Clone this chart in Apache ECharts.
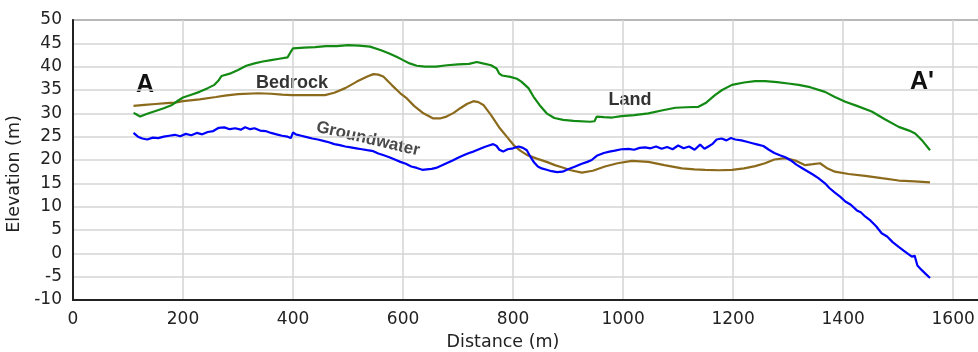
<!DOCTYPE html>
<html>
<head>
<meta charset="utf-8">
<script src="https://cdn.jsdelivr.net/npm/echarts@6/dist/echarts.min.js"></script>
<style>
  html, body { margin: 0; padding: 0; background: #fff; }
  #chart { width: 978px; height: 352px; }
</style>
</head>
<body>
<div id="chart"></div>
<script>
// Cross-section A - A': distance (m) vs elevation (m)

var landDist = [110, 115, 122, 135, 150, 165, 180, 192, 200, 215, 230, 245, 257, 265, 270, 285, 300, 315, 330, 345,
  360, 375, 390, 396, 400, 420, 440, 460, 480, 500, 520, 540, 560, 575, 590, 600, 612, 625, 640, 660,
  680, 700, 720, 734, 745, 760, 770, 775, 780, 795, 807, 815, 828, 837, 848, 861, 875, 891, 910, 940,
  948, 952, 965, 980, 997, 1020, 1046, 1070, 1095, 1115, 1137, 1150, 1167, 1180, 1198, 1220, 1240, 1258, 1280, 1300,
  1319, 1340, 1367, 1385, 1404, 1425, 1452, 1475, 1501, 1520, 1531, 1545, 1558]
var landElev = [30.1, 29.8, 29.3, 29.9, 30.5, 31.1, 31.8, 32.8, 33.4, 34.0, 34.6, 35.4, 36.1, 37.1, 38.0, 38.5, 39.3, 40.2, 40.7, 41.1,
  41.4, 41.7, 42.0, 43.2, 43.9, 44.1, 44.2, 44.4, 44.4, 44.6, 44.5, 44.3, 43.5, 42.8, 42.0, 41.4, 40.7, 40.2, 40.0, 40.0,
  40.3, 40.5, 40.6, 41.0, 40.7, 40.3, 39.6, 38.5, 38.1, 37.8, 37.4, 36.8, 35.4, 33.6, 31.8, 30.0, 29.0, 28.6, 28.4, 28.2,
  28.3, 29.3, 29.2, 29.1, 29.4, 29.6, 30.0, 30.6, 31.2, 31.3, 31.4, 32.2, 33.9, 35.0, 36.1, 36.6, 36.9, 36.9, 36.7, 36.4,
  36.1, 35.6, 34.6, 33.5, 32.5, 31.6, 30.4, 28.8, 27.1, 26.3, 25.7, 24.0, 22.1]

var bedDist = [110, 130, 150, 170, 185, 200, 230, 260, 276, 300, 337, 360, 380, 398, 430, 458, 475, 495, 516, 535,
  546, 555, 564, 580, 595, 607, 620, 637, 655, 667, 679, 692, 704, 716, 728, 737, 746, 760, 776, 790,
  801, 813, 825, 843, 861, 876, 890, 905, 925, 945, 967, 990, 1016, 1046, 1075, 1107, 1130, 1149, 1175, 1198,
  1220, 1240, 1258, 1275, 1295, 1315, 1331, 1345, 1358, 1370, 1385, 1410, 1440, 1470, 1501, 1530, 1558]
var bedElev = [31.6, 31.8, 32.0, 32.2, 32.3, 32.6, 33.0, 33.5, 33.8, 34.1, 34.3, 34.2, 34.0, 33.9, 33.9, 33.9, 34.4, 35.4, 36.8, 37.9,
  38.4, 38.3, 37.9, 36.0, 34.3, 33.2, 31.6, 30.0, 28.9, 28.9, 29.3, 30.1, 31.1, 32.0, 32.6, 32.4, 31.8, 29.6, 26.8, 24.8,
  23.2, 22.0, 21.1, 20.3, 19.6, 18.9, 18.4, 17.8, 17.3, 17.7, 18.6, 19.3, 19.8, 19.6, 18.9, 18.2, 18.0, 17.9, 17.8, 17.9,
  18.2, 18.7, 19.3, 20.1, 20.4, 19.8, 18.9, 19.1, 19.3, 18.3, 17.5, 17.0, 16.6, 16.1, 15.6, 15.4, 15.2]

var gwDist = [110, 118, 126, 135, 145, 155, 165, 175, 185, 195, 205, 215, 225, 235, 245, 255, 265, 275, 285, 295,
  305, 313, 322, 330, 340, 350, 360, 370, 380, 390, 396, 400, 405, 415, 425, 435, 445, 455, 465, 475,
  485, 495, 505, 515, 525, 535, 546, 555, 565, 575, 585, 595, 605, 615, 625, 635, 643, 652, 660, 670,
  679, 690, 700, 710, 720, 728, 738, 748, 756, 764, 770, 775, 782, 790, 800, 810, 818, 825, 832, 838,
  845, 852, 861, 870, 880, 890, 900, 913, 925, 935, 943, 952, 965, 975, 985, 997, 1010, 1020, 1030, 1040,
  1050, 1060, 1070, 1080, 1090, 1100, 1110, 1120, 1130, 1140, 1148, 1155, 1162, 1170, 1179, 1188, 1196, 1204, 1215, 1225,
  1235, 1245, 1255, 1265, 1275, 1285, 1295, 1305, 1315, 1325, 1335, 1345, 1355, 1367, 1375, 1385, 1395, 1404, 1414, 1425,
  1432, 1440, 1450, 1460, 1470, 1480, 1490, 1501, 1510, 1518, 1525, 1530, 1535, 1543, 1550, 1558]
var gwElev = [25.8, 25.0, 24.6, 24.4, 24.8, 24.7, 25.0, 25.2, 25.4, 25.1, 25.6, 25.3, 25.8, 25.5, 26.0, 26.2, 26.9, 27.0, 26.6, 26.8,
  26.5, 27.0, 26.6, 26.8, 26.3, 26.2, 25.8, 25.5, 25.2, 25.0, 24.7, 25.9, 25.5, 25.2, 24.9, 24.6, 24.4, 24.1, 23.8, 23.4,
  23.2, 22.9, 22.7, 22.5, 22.3, 22.1, 21.9, 21.4, 21.0, 20.6, 20.1, 19.6, 19.2, 18.6, 18.3, 17.9, 18.0, 18.1, 18.3, 18.8,
  19.3, 19.9, 20.5, 21.0, 21.5, 21.8, 22.3, 22.8, 23.1, 23.4, 23.0, 22.2, 21.8, 22.3, 22.5, 22.9, 22.6, 22.1, 20.6, 19.5,
  18.6, 18.2, 17.9, 17.6, 17.4, 17.5, 18.0, 18.6, 19.2, 19.6, 20.0, 20.9, 21.5, 21.8, 22.0, 22.3, 22.4, 22.2, 22.6, 22.7,
  22.5, 22.9, 22.4, 22.8, 22.3, 23.1, 22.5, 22.9, 22.2, 23.3, 22.4, 22.9, 23.4, 24.4, 24.6, 24.2, 24.7, 24.4, 24.2, 23.9,
  23.6, 23.3, 23.0, 22.2, 21.5, 21.0, 20.6, 19.9, 19.0, 18.3, 17.6, 16.9, 16.1, 15.0, 14.0, 13.0, 12.1, 11.1, 10.4, 9.2,
  8.8, 7.9, 7.0, 5.8, 4.3, 3.6, 2.4, 1.4, 0.6, -0.1, -0.7, -0.5, -2.6, -3.6, -4.4, -5.3]

function pairs(xs, ys) {
  return xs.map(function(x, i) { return [x, ys[i]] })
}

var chart = echarts.init(document.getElementById('chart'), null, { renderer: 'canvas' })

var FONT = 'DejaVu Sans'
var LABEL_FONT = 'Liberation Sans'

function lineSeries(name, data, color) {
  return {
    name: name,
    type: 'line',
    data: data,
    showSymbol: false,
    smooth: false,
    lineStyle: { color: color, width: 2.2 },
    itemStyle: { color: color },
    animation: false
  }
}

chart.setOption({
  backgroundColor: '#ffffff',
  grid: {
    left: 73, right: -1, top: 20, bottom: 52,
    containLabel: false,
    outerBoundsMode: 'none',
    show: true, borderColor: '#333333', borderWidth: 1.5, backgroundColor: 'transparent'
  },
  xAxis: {
    type: 'value',
    min: 0, max: 1647, interval: 200,
    name: 'Distance (m)',
    nameLocation: 'middle',
    nameGap: 33,
    nameTextStyle: { fontFamily: FONT, fontSize: 17.5, color: '#222', padding: [0, 46, 0, 0] },
    axisLine: { show: true, onZero: false, lineStyle: { color: '#222', width: 2 } },
    axisTick: { show: false },
    axisLabel: {
      fontFamily: FONT, fontSize: 17, color: '#222', margin: 11, showMaxLabel: false,
      formatter: function(v) { return v % 200 === 0 ? String(v) : '' }
    },
    splitLine: { show: true, lineStyle: { color: '#d4d4d4', width: 1.5 } }
  },
  yAxis: {
    type: 'value',
    min: -10, max: 50, interval: 5,
    name: 'Elevation (m)',
    nameLocation: 'middle',
    nameGap: 45,
    nameTextStyle: { fontFamily: FONT, fontSize: 17.5, color: '#222', padding: [0, 28, 0, 0] },
    axisLine: { show: true, onZero: false, lineStyle: { color: '#222', width: 2 } },
    axisTick: { show: false },
    axisLabel: { fontFamily: FONT, fontSize: 17, color: '#222', margin: 11 },
    splitLine: { show: true, lineStyle: { color: '#d4d4d4', width: 1.5 } }
  },
  series: [
    lineSeries('Bedrock', pairs(bedDist, bedElev), '#8c6a1c'),
    lineSeries('Groundwater', pairs(gwDist, gwElev), '#0000ff'),
    lineSeries('Land', pairs(landDist, landElev), '#138a13')
  ],
  graphic: [
    { type: 'text', x: 145, y: 85, style: { text: 'A', font: 'bold 25px ' + LABEL_FONT, fill: '#111', align: 'center', verticalAlign: 'middle' } },
    { type: 'text', x: 922, y: 82, style: { text: "A'", font: 'bold 25px ' + LABEL_FONT, fill: '#111', align: 'center', verticalAlign: 'middle' } },
    { type: 'text', x: 292, y: 83, style: { text: 'Bedrock', font: 'bold 18px ' + LABEL_FONT, fill: '#333', align: 'center', verticalAlign: 'middle' } },
    { type: 'text', x: 630, y: 100, style: { text: 'Land', font: 'bold 18px ' + LABEL_FONT, fill: '#333', align: 'center', verticalAlign: 'middle' } },
    { type: 'text', x: 368, y: 139, rotation: -0.23, style: { text: 'Groundwater', font: 'bold 17px ' + LABEL_FONT, fill: '#4a4a4a', align: 'center', verticalAlign: 'middle' } }
  ]
})

window.addEventListener('resize', function() { chart.resize() })
</script>
</body>
</html>
